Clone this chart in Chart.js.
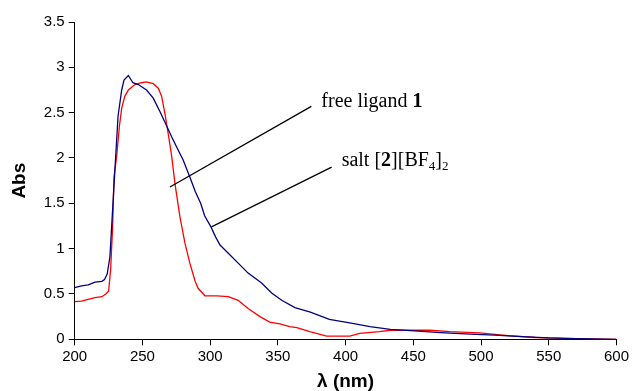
<!DOCTYPE html>
<html>
<head>
<meta charset="utf-8">
<script src="https://cdn.jsdelivr.net/npm/chart.js@4/dist/chart.umd.min.js"></script>
<style>
  html, body { margin: 0; padding: 0; background: #fff; }
  #wrap { width: 632px; height: 391px; }
</style>
</head>
<body>
<div id="wrap"><canvas id="chart" width="632" height="391"></canvas></div>
<script>
'use strict';

// salt [2][BF4]2 (blue)
const saltNm = [200, 205, 210, 215, 220, 222, 224, 226, 228, 230, 232, 234.7, 236.4, 239.6, 243, 247, 253, 258, 263, 268, 272, 276, 280, 285, 289, 293, 296, 300.6, 304, 307.3, 313.4, 320.7, 328, 338, 345.4, 352.8, 362.6, 374, 388, 403, 418, 433, 448, 470, 492, 510, 530, 550, 570, 600]
const saltAbs = [0.57, 0.59, 0.60, 0.63, 0.64, 0.66, 0.72, 0.91, 1.43, 1.95, 2.46, 2.75, 2.86, 2.91, 2.83, 2.81, 2.75, 2.66, 2.51, 2.35, 2.22, 2.10, 1.98, 1.79, 1.63, 1.50, 1.36, 1.24, 1.13, 1.04, 0.95, 0.84, 0.73, 0.62, 0.51, 0.43, 0.35, 0.30, 0.22, 0.18, 0.14, 0.11, 0.095, 0.073, 0.058, 0.045, 0.03, 0.015, 0.008, 0.0]

// free ligand 1 (red)
const ligandNm = [200, 205, 210, 215, 220, 223, 225, 226.5, 228, 229, 231, 233, 234.7, 237, 239.6, 244.5, 249.4, 252.6, 258, 261.7, 264.2, 266.6, 269, 271.6, 274, 277.7, 281.4, 285, 288.9, 291.2, 296.2, 305, 313.4, 320.7, 328, 336.8, 344, 351.5, 358.7, 364, 373.6, 386, 403, 410.5, 425, 433, 447.5, 462, 477, 499, 520, 540, 560, 580, 600]
const ligandAbs = [0.415, 0.42, 0.44, 0.46, 0.47, 0.50, 0.53, 0.76, 1.24, 1.79, 2.02, 2.35, 2.55, 2.68, 2.75, 2.81, 2.83, 2.84, 2.82, 2.77, 2.68, 2.49, 2.27, 2.02, 1.72, 1.35, 1.06, 0.84, 0.64, 0.56, 0.48, 0.48, 0.47, 0.43, 0.34, 0.25, 0.19, 0.17, 0.14, 0.13, 0.085, 0.036, 0.036, 0.066, 0.084, 0.10, 0.10, 0.10, 0.084, 0.07, 0.04, 0.02, 0.01, 0.005, 0.0]

// pointer lines, in data units: [nm, abs] -> [nm, abs]
const ligandPointer = [[270.3, 1.68], [374.7, 2.57]]
const saltPointer = [[301, 1.24], [389.7, 1.90]]

const toPoints = (xs, ys) => xs.map((x, i) => ({ x: x, y: ys[i] }))

// text labels with the pointers, drawn as pieces (bold / subscript)
const labelPlugin = {
    id: 'labels',
    afterDatasetsDraw(chart) {
        const ctx = chart.ctx
        const xs = chart.scales.x, ys = chart.scales.y
        const px = p => [xs.getPixelForValue(p[0]), ys.getPixelForValue(p[1])]

        ctx.save()
        ctx.strokeStyle = '#000'
        ctx.lineWidth = 1.3
        for (const ptr of [ligandPointer, saltPointer]) {
            const a = px(ptr[0]), b = px(ptr[1])
            ctx.beginPath()
            ctx.moveTo(a[0], a[1])
            ctx.lineTo(b[0], b[1])
            ctx.stroke()
        }

        const serif = '"Liberation Serif", "Times New Roman", serif'
        const size = 20
        const pieces = (x, y, parts) => {
            for (const part of parts) {
                const s = part.sub ? Math.round(size * 0.65) : size
                ctx.font = (part.bold ? 'bold ' : '') + s + 'px ' + serif
                ctx.fillStyle = '#000'
                ctx.textBaseline = 'alphabetic'
                ctx.fillText(part.t, x, part.sub ? y + 4 : y)
                x += ctx.measureText(part.t).width
            }
        }
        const l = px(ligandPointer[1])
        pieces(l[0] + 10, l[1] + 1, [{ t: 'free ligand ' }, { t: '1', bold: true }])
        const s = px(saltPointer[1])
        pieces(s[0] + 10, s[1] - 1, [
            { t: 'salt [' }, { t: '2', bold: true }, { t: '][BF' }, { t: '4', sub: true },
            { t: ']' }, { t: '2', sub: true }
        ])
        ctx.restore()
    }
}

const sans = '"Liberation Sans", Arial, sans-serif'

const ctx = document.getElementById('chart').getContext('2d')
const chart = new Chart(ctx, {
    type: 'line',
    data: {
        datasets: [{
            label: 'salt',
            data: toPoints(saltNm, saltAbs),
            borderColor: '#000080',
            borderWidth: 1.3,
            pointRadius: 0,
            tension: 0,
            fill: false,
        },
        {
            label: 'free ligand',
            data: toPoints(ligandNm, ligandAbs),
            borderColor: '#ff0000',
            borderWidth: 1.3,
            pointRadius: 0,
            tension: 0,
            fill: false,
        }]
    },
    options: {
        responsive: false,
        animation: false,
        layout: { padding: { top: 22, right: 15.3, left: 0, bottom: 0 } },
        plugins: {
            legend: { display: false },
            tooltip: { enabled: false },
        },
        scales: {
            x: {
                type: 'linear',
                min: 200,
                max: 600,
                afterFit(scale) { scale.height = 51.7 },
                ticks: { stepSize: 50, color: '#000', font: { family: sans, size: 15 }, padding: 3, maxRotation: 0 },
                grid: { drawOnChartArea: false, drawTicks: true, tickLength: 6, color: '#000' },
                border: { color: '#000', width: 1 },
                title: { display: true, text: 'λ (nm)', color: '#000', font: { family: sans, size: 19, weight: 'bold', lineHeight: 1 }, padding: 0 },
            },
            y: {
                min: 0,
                max: 3.5,
                afterFit(scale) { scale.width = 74.7 },
                ticks: {
                    stepSize: 0.5, color: '#000', font: { family: sans, size: 15 }, padding: 4,
                    callback: v => String(Math.round(v * 10) / 10)
                },
                grid: { drawOnChartArea: false, drawTicks: true, tickLength: 6, color: '#000' },
                border: { color: '#000', width: 1 },
                title: { display: true, text: 'Abs', color: '#000', font: { family: sans, size: 19, weight: 'bold', lineHeight: 1 }, padding: 10 },
            }
        }
    },
    plugins: [labelPlugin]
});
</script>
</body>
</html>
